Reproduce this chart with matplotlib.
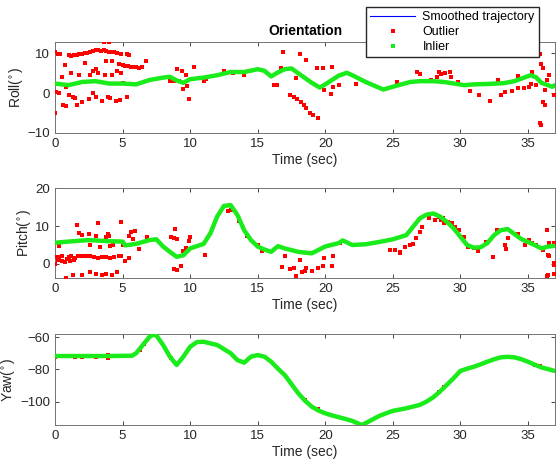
import matplotlib
matplotlib.use("Agg")
import matplotlib.pyplot as plt
from matplotlib.lines import Line2D

plt.rcParams['font.family'] = ['Liberation Sans', 'DejaVu Sans']

# ---- data ----
# inlier / smoothed trajectories (time in sec, angle in deg)
roll_t = [0, 1, 2, 3, 4, 5, 6, 7, 8, 8.5, 9, 9.5, 10, 11, 12, 13, 14, 15, 15.5, 16,
          16.5, 17, 17.5, 18, 19, 19.6, 20, 21, 21.6, 22, 23, 24.3, 25, 26.3, 27, 28,
          28.8, 30.3, 31, 32, 33.2, 34, 35.2, 35.6, 36, 36.8, 37]
roll_in = [2.4, 2.0, 2.8, 3.0, 2.4, 2.4, 2.2, 3.3, 3.9, 4.1, 3.2, 2.6, 3.5, 3.9, 4.5, 5.3,
           5.3, 6.0, 5.6, 4.2, 5.2, 6.0, 6.2, 5.0, 2.6, 1.4, 2.2, 4.4, 5.1, 4.5, 2.8, 0.9,
           1.6, 2.8, 3.0, 3.0, 2.8, 2.0, 2.2, 2.3, 2.5, 3.0, 4.5, 4.0, 2.6, 1.6, 2.0]

pitch_t = [0, 1, 2.5, 4, 5, 5.2, 6, 7, 7.5, 8, 8.5, 9, 9.5, 10, 11, 11.5, 12, 12.5, 13,
           13.5, 14, 14.5, 15, 15.5, 16, 16.5, 17, 18, 19, 20, 21, 21.3, 22, 23, 24, 25,
           26, 26.5, 27, 27.5, 28, 28.5, 29, 29.5, 30, 30.5, 31, 31.5, 32, 32.5, 33,
           33.5, 34, 34.5, 35, 35.5, 36, 36.5, 37]
pitch_in = [5.6, 5.9, 6.3, 6.0, 5.9, 4.9, 5.3, 6.3, 6.5, 4.6, 3.2, 1.9, 2.3, 4.1, 5.3,
            8.1, 12.5, 15.3, 15.5, 12.9, 8.9, 6.3, 4.6, 3.8, 3.2, 4.7, 4.1, 3.2, 2.8,
            4.6, 5.5, 6.2, 5.0, 5.2, 5.8, 6.5, 7.6, 9.8, 12.0, 13.0, 13.3, 12.5, 11.1,
            9.4, 7.2, 5.0, 4.3, 4.4, 5.5, 7.6, 8.9, 9.2, 7.9, 6.6, 5.8, 5.0, 4.1, 4.6, 4.8]

yaw_t = [0, 2, 4, 5.7, 6, 6.5, 7, 7.3, 7.5, 8, 8.5, 9, 9.5, 10, 10.5, 11, 12, 13, 13.5,
         14, 14.5, 15, 15.5, 16, 16.5, 17, 17.5, 18, 18.5, 19, 19.5, 20, 20.5, 21, 21.5,
         22, 22.7, 23, 23.5, 24, 24.5, 25, 25.5, 26, 27, 27.5, 28, 28.5, 29, 29.5, 30,
         30.5, 31, 31.5, 32, 32.5, 33, 33.5, 34, 34.5, 35, 35.5, 36, 36.5, 37]
yaw_in = [-71.7, -71.7, -71.7, -71.5, -70.0, -64.9, -59.8, -58.5, -59.0, -64.9, -72.1,
          -77.2, -72.1, -66.0, -63.1, -62.9, -64.9, -70.0, -74.2, -75.8, -72.1, -71.1,
          -72.1, -75.2, -79.5, -83.4, -89.0, -94.6, -99.2, -102.9, -105.3, -107.0,
          -108.3, -109.4, -110.5, -111.7, -114.2, -113.0, -110.8, -108.6, -107.0,
          -105.5, -104.7, -103.9, -101.8, -99.8, -97.1, -93.5, -89.5, -85.4, -80.9,
          -79.5, -78.3, -76.8, -75.2, -73.7, -72.5, -72.2, -72.5, -73.6, -75.2, -77.0,
          -78.7, -79.8, -80.9]

# outliers
roll_out_t = [0.0, 0.2, 0.4, 1.0, 1.2, 1.4, 1.6, 1.8, 2.0, 2.2, 2.4, 2.6, 2.8, 3.0, 3.2,
              3.4, 3.6, 3.8, 4.0, 4.2, 4.4, 4.6, 4.9, 5.3, 5.5, 3.6, 4.0,
              4.7, 5.0, 5.2, 5.4, 5.6, 5.8, 6.0, 6.2, 6.4, 6.7,
              0.0, 0.1, 0.3, 0.5, 0.6, 0.7, 0.8, 0.8, 1.0, 1.2, 1.3, 1.5, 1.6, 1.8, 2.0,
              2.2, 2.5, 2.6, 2.8, 2.8, 3.0, 3.0, 3.2, 3.5, 3.7, 3.8, 3.9, 4.1, 4.2, 4.2,
              4.5, 4.6, 4.8, 4.9, 5.0, 5.3,
              8.5, 8.8, 9.0, 9.2, 9.4, 9.5, 9.7, 9.8, 9.9, 11.0, 10.3, 11.2, 12.5, 13.2,
              14.0, 16.2, 16.9, 16.7, 16.4, 18.15, 18.6, 19.4, 19.8, 19.9, 20.4, 20.6,
              20.5, 21.0, 17.4, 17.7, 17.9, 18.2, 18.4, 18.6, 18.9, 19.1, 19.5, 17.8,
              22.3, 25.3, 26.8, 27.0, 27.8, 28.3, 28.4, 28.6, 28.9, 29.2, 29.3, 29.8,
              30.7, 31.4, 32.2, 32.8, 33.0, 33.3, 33.8, 34.3, 34.7, 35.1, 35.2, 35.6,
              35.9, 36.0, 36.1, 36.3, 36.1, 36.3, 35.9, 36.0, 36.6, 36.9, 36.4, 35.3,
              34.3]
roll_out = [10.2, 9.9, 9.8, 9.6, 9.4, 9.5, 9.6, 9.8, 9.7, 10.0, 10.1, 10.3, 10.5, 10.7,
            10.8, 10.6, 10.9, 10.5, 10.3, 10.2, 10.4, 10.0, 9.9, 9.7, 9.6, 12.8, 12.9,
            7.2, 7.0, 6.8, 6.7, 6.6, 6.5, 6.6, 6.4, 6.5, 8.0,
            -5.0, 0.2, 0.0, 4.0, -3.0, 7.0, -3.2, 1.5, -0.5, 5.0, -1.0, -1.2, -3.0, 4.5,
            -2.2, 7.5, -1.5, 4.5, 5.5, 0.0, -1.0, 6.0, 5.0, -2.0, 4.5, 8.0, -1.0, -1.2,
            4.5, 8.0, -2.0, 5.5, -1.8, 5.0, 2.5, -1.0,
            3.0, 3.0, 6.0, 3.0, 5.5, 1.0, 4.5, 1.8, -1.5, 3.0, 6.5, 3.5, 5.5, 5.0,
            4.5, 2.0, 10.3, 6.2, 2.0, 9.9, 8.4, 6.3, 6.2, 0.9, -0.3, 1.6,
            6.6, 2.0, -0.5, -0.9, -1.5, -2.2, -3.0, -3.8, -5.1, -5.5, -6.3, 3.9,
            2.4, 2.8, 5.3, 4.9, 3.4, 4.1, 5.3, 4.8, 5.1, 5.3, 4.1, 2.8,
            0.6, -0.5, -1.9, 3.3, -0.5, 0.3, 0.6, 1.2, 1.4, 1.6, 2.4, 2.0,
            9.9, 7.4, 6.2, 0.9, -2.2, -3.0, -7.6, -8.0, 4.5, -0.5, 3.3, 5.3,
            4.3]

pitch_out_t = [0.0, 0.2, 0.3, 0.5, 0.7, 0.9, 1.0, 1.2, 1.4, 1.5, 1.7, 2.0, 2.3, 2.6, 2.9,
               3.2, 3.5, 3.8, 4.1, 4.4, 4.7, 4.9, 0.5, 1.1,
               0.0, 0.8, 1.3, 2.0, 2.6, 3.0, 3.5, 3.8, 4.2, 4.6,
               0.3, 1.6, 1.8, 2.0, 2.5, 2.6, 3.0, 3.2, 3.3, 3.8, 3.9, 4.0, 4.1, 4.3, 4.9,
               5.0, 5.2, 5.5, 5.6, 5.8, 5.9, 5.5, 6.2, 5.5, 6.8,
               8.6, 8.8, 9.0, 8.9, 8.8, 9.0, 9.3, 9.5, 9.7, 9.9, 10.0, 11.1,
               12.8, 13.0, 13.6, 14.2, 15.0, 15.3,
               16.8, 17.0, 17.4, 17.7, 17.8, 18.1, 18.3, 18.5, 18.6, 19.0, 19.5, 19.8,
               19.9, 20.4, 20.5, 20.6, 21.1,
               24.8, 25.2, 25.5, 25.5, 25.9, 26.3, 26.5, 26.7, 27.0, 27.2, 27.7, 28.1,
               28.4, 28.6, 28.7, 28.8, 29.1, 29.4, 29.6, 29.9, 30.3, 30.6, 31.0, 31.3,
               31.9, 32.4, 32.7, 33.3, 33.4, 33.5, 34.3, 34.8, 35.1, 35.3, 35.6, 36.1,
               36.4, 36.5, 36.6, 36.6, 36.9, 36.5, 36.4, 36.9, 36.9, 36.9]
pitch_out = [1.8, 1.0, 1.9, 0.8, 0.5, 1.2, 1.8, 2.0, 1.0, 1.7, 2.0, 2.1, 2.2, 2.0, 1.8,
             1.6, 1.9, 1.8, 1.7, 1.9, 2.0, 2.1, 2.2, 0.9,
             0.0, -3.8, -3.0, -3.0, -2.2, -2.7, -3.0, -2.7, -3.0, -2.0,
             4.8, 10.3, 8.2, 7.7, 8.0, 5.0, 7.5, 10.7, 4.5, 7.0, 8.0, 7.5, 4.8, 5.0, 11.0,
             5.0, 0.8, 7.5, 8.5, 6.5, 8.8, 5.0, 4.0, 1.7, 7.0,
             7.0, 6.8, 6.5, 9.2, -1.2, -1.5, -0.5, 3.5, 4.2, 6.0, 7.0, 2.3,
             14.0, 14.2, 11.2, 7.4, 5.0, 3.5,
             -0.9, 2.1, -1.4, -1.1, -3.1, 1.0, -2.0, -1.8, -1.1, -1.8, -1.1, -0.5,
             1.5, 5.0, -0.5, 2.1, 5.4,
             3.7, 3.7, 3.2, 2.8, 4.6, 5.0, 5.2, 6.8, 8.5, 9.8, 12.0, 11.6,
             12.5, 11.6, 12.0, 10.7, 11.1, 10.7, 9.8, 8.9, 7.2, 4.6, 4.2, 3.3,
             5.9, 1.9, 8.9, 5.0, 3.9, 6.8, 8.0, 5.0, 6.3, 5.4, 5.0, 3.7,
             8.9, 2.4, 5.4, 2.1, 5.6, -2.9, -3.2, -0.3, 0.2, -2.6]

yaw_out_t = [0.0, 0.8, 1.5, 2.0, 2.5, 3.0, 3.9, 3.9, 6.3, 6.6, 8.6, 18.5, 19.5, 28.4,
             28.8, 35.5, 35.9]
yaw_out = [-72.0, -71.5, -72.0, -72.0, -71.7, -72.0, -73.0, -71.0, -68.0, -64.0, -73.0,
           -98.5, -104.5, -94.0, -91.0, -77.0, -78.0]

panels = [
    ("Roll($^{\\circ}$)", roll_t, roll_in, roll_out_t, roll_out, (-10, 12.8), [-10, 0, 10]),
    ("Pitch($^{\\circ}$)", pitch_t, pitch_in, pitch_out_t, pitch_out, (-3.7, 20), [0, 10, 20]),
    ("Yaw($^{\\circ}$)", yaw_t, yaw_in, yaw_out_t, yaw_out, (-114.2, -58.2), [-100, -80, -60]),
]

fig = plt.figure(figsize=(5.56, 4.66), dpi=100)
rects = [[0.099, 0.7146, 0.899, 0.195],
         [0.099, 0.4034, 0.899, 0.193],
         [0.099, 0.088, 0.899, 0.195]]

green = (0.1, 0.92, 0.1)
for rect, (lab, t, y_in, t_out, y_out, ylim, yt) in zip(rects, panels):
    ax = fig.add_axes(rect)
    ax.plot(t, y_in, color='blue', lw=0.8, zorder=2)
    ax.plot(t_out, y_out, 's', color='red', ms=2.3, mew=0, zorder=3)
    ax.plot(t, y_in, color=green, lw=3.2, solid_capstyle='round',
            solid_joinstyle='round', zorder=4)
    ax.set_xlim(0, 37)
    ax.set_ylim(*ylim)
    ax.set_yticks(yt)
    ax.set_xticks(range(0, 40, 5))
    ax.set_xlabel("Time (sec)", fontsize=10, color='0.15', labelpad=2)
    ax.set_ylabel(lab, fontsize=10, color='0.15', labelpad=2)
    ax.tick_params(direction='in', top=True, right=True, labelsize=9.5,
                   colors='0.15', length=3, width=0.6)
    for s in ax.spines.values():
        s.set_color('0.45')
        s.set_linewidth(0.7)
    if lab.startswith("Roll"):
        ax.set_title("Orientation", fontsize=10, fontweight='bold', pad=5)

handles = [Line2D([], [], color='blue', lw=0.8),
           Line2D([], [], marker='s', ls='', color='red', ms=2.3, mew=0),
           Line2D([], [], marker='s', ls='', color=green, ms=2.3, mew=0)]
fig.legend(handles, ["Smoothed trajectory", "Outlier", "Inlier"],
           loc='upper left', bbox_to_anchor=(360 / 556, 1 - 1 / 466),
           fontsize=9, frameon=True, fancybox=False, edgecolor='0.15',
           borderpad=0.3, labelspacing=0.25, handlelength=3.6, handletextpad=0.6,
           framealpha=1)

fig.savefig("out.png", dpi=100)
